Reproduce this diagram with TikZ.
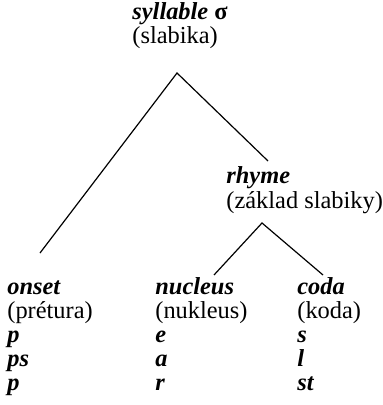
\documentclass[tikz,border=0pt]{standalone}
\usepackage{fontspec}
\setmainfont{Liberation Serif}
\usepackage{tikz}

\begin{document}
\begin{tikzpicture}[x=0.5pt,y=-0.5pt,
term/.style={anchor=base west,inner sep=0pt,font=\fontsize{12.2}{12}\selectfont\bfseries\itshape},
gloss/.style={anchor=base west,inner sep=0pt,font=\fontsize{12.2}{12}\selectfont},
vetva/.style={line width=0.6pt},
]
\useasboundingbox (0,0) rectangle (383,405);

% koren
\node[term] (syl) at (132,20) {syllable \textup{σ}};
\node[gloss] (syl-g) at (132,44) {(slabika)};

\node[term] (rhyme) at (226,184) {rhyme};
\node[gloss] (rhyme-g) at (226,208) {(základ slabiky)};

% listy
\node[term] (onset) at (7,294) {onset};
\node[gloss] (onset-g) at (7,318) {(prétura)};
\node[term] (nucleus) at (155,294) {nucleus};
\node[gloss] (nucleus-g) at (155,318) {(nukleus)};
\node[term] (coda) at (297,294) {coda};
\node[gloss] (coda-g) at (297,318) {(koda)};

\foreach \a/\b/\c [count=\i] in {p/e/s, ps/a/l, p/r/st}{
  \node[term] (on\i) at (7,318+24*\i) {\a};
  \node[term] (nu\i) at (155,318+24*\i) {\b};
  \node[term] (co\i) at (297,318+24*\i) {\c};
}

% uzly stromu
\coordinate (syl-j) at (177,73);
\coordinate (onset-j) at (40,253);
\coordinate (rhyme-j) at (268,161);
\coordinate (rhyme-k) at (262,223);
\coordinate (nucleus-j) at (214,275);
\coordinate (coda-j) at (323,275);

\draw[vetva] (onset-j) -- (syl-j) -- (rhyme-j);
\draw[vetva] (nucleus-j) -- (rhyme-k) -- (coda-j);

\end{tikzpicture}
\end{document}
